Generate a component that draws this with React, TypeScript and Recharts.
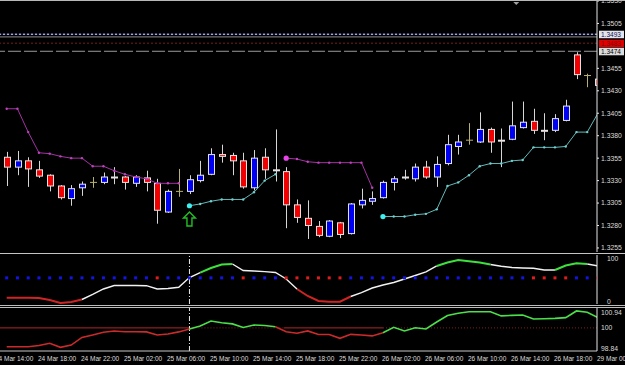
import React from 'react'
import {
  Bar,
  ComposedChart,
  Line,
  ReferenceDot,
  ReferenceLine,
  Scatter,
  XAxis,
  YAxis,
} from 'recharts'

// H1 bars from 24 Mar 15:00, last bar is 29 Mar 00:00
const opens = [
  1.3356, 1.3345, 1.3352, 1.3342, 1.3336, 1.3324, 1.331, 1.3322, 1.3328, 1.3328,
  1.3334, 1.3334, 1.3327, 1.3333, 1.3327, 1.3295, 1.3318, 1.3318, 1.333, 1.3337,
  1.3359, 1.3358, 1.3352, 1.3322, 1.3356, 1.3342, 1.334, 1.3303, 1.3288, 1.3279,
  1.3268, 1.3283, 1.3271, 1.3303, 1.3307, 1.3311, 1.3328, 1.3333, 1.3332, 1.3345,
  1.3334, 1.3349, 1.3368, 1.3375, 1.3373, 1.3387, 1.3375, 1.3376, 1.3389, 1.3396,
  1.3386, 1.3386, 1.3397, 1.347, 1.3447, 1.3443,
]
const highs = [
  1.3362, 1.3363, 1.3356, 1.3352, 1.3337, 1.3325, 1.3325, 1.3329, 1.3334, 1.3339,
  1.3345, 1.3335, 1.3336, 1.3341, 1.3332, 1.332, 1.3343, 1.3336, 1.3352, 1.3366,
  1.337, 1.3361, 1.3361, 1.3364, 1.3366, 1.3387, 1.3345, 1.3309, 1.3308, 1.3285,
  1.3286, 1.3284, 1.3305, 1.3321, 1.3318, 1.333, 1.3335, 1.3342, 1.3349, 1.3352,
  1.3357, 1.3381, 1.3381, 1.3394, 1.3406, 1.3389, 1.3388, 1.3418, 1.3418, 1.341,
  1.3405, 1.3404, 1.342, 1.3473, 1.3449, 1.3446,
]
const lows = [
  1.3324, 1.3336, 1.3323, 1.3333, 1.3318, 1.3309, 1.3302, 1.3313, 1.3322, 1.3326,
  1.3326, 1.332, 1.3323, 1.3318, 1.3282, 1.3294, 1.3312, 1.3315, 1.3328, 1.3336,
  1.335, 1.3336, 1.3321, 1.3319, 1.3332, 1.3329, 1.3277, 1.3283, 1.3265, 1.3267,
  1.3267, 1.3266, 1.327, 1.3299, 1.3303, 1.331, 1.3319, 1.3331, 1.3329, 1.3332,
  1.3323, 1.3347, 1.3359, 1.337, 1.3372, 1.3361, 1.3345, 1.3375, 1.3388, 1.3382,
  1.3375, 1.3384, 1.3396, 1.3443, 1.3434, 1.3432,
]
const closes = [
  1.3345, 1.3352, 1.3343, 1.3335, 1.3324, 1.3311, 1.3321, 1.3326, 1.3328, 1.3334,
  1.3333, 1.3328, 1.3334, 1.3328, 1.3297, 1.3318, 1.3318, 1.3331, 1.3336, 1.3359,
  1.3357, 1.3352, 1.3323, 1.3355, 1.3342, 1.3341, 1.3303, 1.3289, 1.328, 1.3269,
  1.3285, 1.327, 1.3304, 1.3308, 1.331, 1.3328, 1.3332, 1.3334, 1.3345, 1.3334,
  1.3348, 1.337, 1.3373, 1.3375, 1.3387, 1.3373, 1.3374, 1.3391, 1.3395, 1.3386,
  1.3385, 1.3399, 1.3413, 1.3448, 1.3447, 1.3436,
]

// trailing stops (magenta above price, cyan below)
const stopHi = [
  1.341, 1.341, 1.3384, 1.3361, 1.336, 1.3357, 1.3355, 1.3355, 1.3346, 1.3346,
  1.3341, 1.3337, 1.3334, 1.3332, 1.3327, 1.3327, 1.3327, null, null, null,
  null, null, null, null, null, null, 1.3355, 1.3354, 1.3351, 1.335,
  1.335, 1.335, 1.335, 1.335, 1.3322, null, null, null, null, null,
  null, null, null, null, null, null, null, null, null, null,
  null, null, null, null, null, null,
]
const stopLo = [
  null, null, null, null, null, null, null, null, null, null,
  null, null, null, null, null, null, null, 1.3302, 1.3304, 1.3307,
  1.3309, 1.3309, 1.3309, 1.3317, 1.333, 1.3337, null, null, null, null,
  null, null, null, null, null, 1.329, 1.329, 1.329, 1.3292, 1.3293,
  1.3298, 1.3324, 1.3328, 1.3336, 1.3346, 1.3349, 1.3349, 1.3352, 1.3353, 1.3367,
  1.3367, 1.3367, 1.3368, 1.3384, 1.3384, 1.3405,
]

// upper indicator window
const stoch = [
  9.8, 9.8, 9.8, 9.1, 4.4, -2.6, -0.2, 5.6, 17.3, 30.1,
  38.3, 38.3, 38.3, 37.8, 30.1, 31.3, 34.1, 56.9, 68.1, 79.1,
  87.3, 88.4, 73.3, 72.1, 70.5, 68.6, 53.4, 30.1, 13.8, 2.1,
  0.5, 0.5, 12.6, 21.5, 32.4, 39.4, 45.3, 53.4, 61.6, 69.8,
  83.8, 91.9, 97.8, 94.7, 91.9, 87.3, 83.1, 80.3, 79.1, 78.4,
  74.4, 74.4, 84.9, 90.1, 88.4, 83.8,
]
const stochSegs: [number, number, string][] = [
  [0, 7, 'r'], [7, 18, 'w'], [18, 21, 'g'], [21, 27, 'w'], [27, 32, 'r'],
  [32, 40, 'w'], [40, 45, 'g'], [45, 51, 'w'], [51, 54, 'g'], [54, 55, 'w'],
]
const signal = 'bbbbbbbbbbbbbbrbbbbbbbrbbbrrrrrrbbbbbbbbbbbbbbbbbrrrrbbr'.split('')
const SIGNAL_LEVEL = 56

// lower indicator window
const osc = [
  99.01, 99.01, 99.01, 99.08, 99.19, 98.98, 99.1, 99.5, 99.63, 99.77,
  99.84, 99.8, 99.8, 99.79, 99.63, 99.68, 99.79, 99.94, 100.1, 100.36,
  100.27, 100.21, 100.02, 100.15, 100.13, 100.06, 99.8, 99.72, 99.84, 99.65,
  99.65, 99.45, 99.66, 99.63, 99.58, 99.75, 100.03, 99.84, 100.01, 99.94,
  100.31, 100.65, 100.77, 100.85, 100.85, 100.85, 100.63, 100.66, 100.68, 100.47,
  100.48, 100.5, 100.54, 100.89, 100.82, 100.54,
]
const oscSegs: [number, number, string][] = [
  [0, 17, 'r'], [17, 25, 'g'], [25, 35, 'r'], [35, 55, 'g'],
]

const priceTicks = [
  1.3255, 1.328, 1.3305, 1.333, 1.3355, 1.338, 1.3405, 1.343, 1.3455, 1.3505, 1.353,
]
const oscTicks = [98.84, 100, 100.94]
const timeTickIdx = [-1, 3, 7, 11, 15, 19, 23, 27, 31, 35, 39, 43, 47, 51, 55]
const timeLabels = [
  '24 Mar 14:00', '24 Mar 18:00', '24 Mar 22:00', '25 Mar 02:00', '25 Mar 06:00',
  '25 Mar 10:00', '25 Mar 14:00', '25 Mar 18:00', '25 Mar 22:00', '26 Mar 02:00',
  '26 Mar 06:00', '26 Mar 10:00', '26 Mar 14:00', '26 Mar 18:00', '29 Mar 00:00',
]

const pick = (vals: number[], segs: [number, number, string][], c: string) =>
  vals.map((v, i) => (segs.some(([a, b, k]) => k === c && i >= a && i <= b) ? v : null))

const stRed = pick(stoch, stochSegs, 'r')
const stWhite = pick(stoch, stochSegs, 'w')
const stGreen = pick(stoch, stochSegs, 'g')
const osRed = pick(osc, oscSegs, 'r')
const osGreen = pick(osc, oscSegs, 'g')

const rows = opens.map((o, i) => ({
  i,
  open: o,
  high: highs[i],
  low: lows[i],
  close: closes[i],
  range: [lows[i], highs[i]],
  hi: stopHi[i],
  lo: stopLo[i],
  sig: signal[i],
  sigLevel: SIGNAL_LEVEL,
  stR: stRed[i],
  stW: stWhite[i],
  stG: stGreen[i],
  osR: osRed[i],
  osG: osGreen[i],
}))

const FONT = '"Liberation Sans", Arial, sans-serif'
const AX = '#dcdcdc'
const X_DOMAIN: [number, number] = [-0.623, 54.91]
const KHAKI = '#b8b070'

const Candle = (props: any) => {
  const { x, y, width, height, payload } = props
  const { open, close, high, low } = payload
  const top = Math.min(y, y + height)
  const h = Math.abs(height)
  const py = (v: number) => top + ((high - v) / (high - low)) * h
  const cx = Math.round(x + width / 2) + 0.5
  const doji = open === close
  const yo = py(open)
  const yc = py(close)
  const bt = Math.min(yo, yc)
  const bh = Math.max(1, Math.abs(yc - yo))
  return (
    <g>
      <line x1={cx} x2={cx} y1={top} y2={top + h} stroke={doji ? KHAKI : '#d6d6d6'} />
      {doji ? (
        <line x1={cx - 3.5} x2={cx + 3.5} y1={yo} y2={yo} stroke={KHAKI} />
      ) : (
        <rect
          x={cx - 3}
          y={bt}
          width={6}
          height={bh}
          fill={close > open ? '#0000f0' : '#f00000'}
          stroke="#e4e4e4"
          strokeWidth={1}
        />
      )}
    </g>
  )
}

const stopDot = (series: (number | null)[], color: string, big: string) => (p: any) => {
  const { cx, cy, index } = p
  if (series[index] == null || cy == null || isNaN(cy)) return <g key={index} />
  const first = index > 0 && series[index - 1] == null
  return <circle key={index} cx={cx} cy={cy} r={first ? 2.6 : 1.2} fill={first ? big : color} />
}

const UpArrow = (p: any) => {
  const { cx, cy } = p
  const d = `M${cx},${cy} L${cx + 6},${cy + 6} L${cx + 2.5},${cy + 6} L${cx + 2.5},${cy + 14} L${cx - 2.5},${cy + 14} L${cx - 2.5},${cy + 6} L${cx - 6},${cy + 6} Z`
  return <path d={d} fill="none" stroke="#22c022" strokeWidth={1.4} />
}

const TopMarker = (p: any) => {
  const { cx, cy } = p
  return <path d={`M${cx - 3},${cy} L${cx + 3},${cy} L${cx},${cy + 3} Z`} fill="#a0a0a0" />
}

const PriceTag = ({ viewBox, text, bg, fg }: any) => {
  if (!viewBox) return null
  const x = viewBox.x + viewBox.width + 2
  const y = viewBox.y
  return (
    <g>
      <rect x={x} y={y - 3.5} width={25} height={7.5} fill={bg} />
      <text x={x + 2} y={y + 2.6} fontSize={6.5} fontFamily={FONT} fill={fg}>
        {text}
      </text>
    </g>
  )
}

const Square = (p: any) => (
  <rect
    x={p.cx - 1.5}
    y={p.cy - 1.5}
    width={3}
    height={3}
    fill={p.payload.sig === 'r' ? '#e01c1c' : '#1414e6'}
  />
)

const TimeTick = (p: any) => {
  const { x, y, payload } = p
  const k = timeTickIdx.indexOf(payload.value)
  return (
    <text x={x - 1} y={y + 8} fontSize={6.5} fontFamily={FONT} fill={AX}>
      {timeLabels[k]}
    </text>
  )
}

// lower window labels: max sits just under the top edge, min just above the bottom
const OscTick = (p: any) => {
  const { x, y, payload } = p
  const v = payload.value
  const shift = v === oscTicks[2] ? 2.5 : v === oscTicks[0] ? -1 : 0
  return (
    <text x={x + 4} y={y + shift + 2.4} fontSize={6.8} fontFamily={FONT} fill={AX}>
      {v === 100 ? '100' : v.toFixed(2)}
    </text>
  )
}

const yTick = { fill: AX, fontSize: 6.8, fontFamily: FONT }
const line = (top: number, color: string) => (
  <div style={{ position: 'absolute', left: 0, top, width: 625, height: 1, background: color }} />
)

export default function App() {
  return (
    <div
      style={{
        position: 'absolute',
        left: 0,
        top: 0,
        width: 625,
        height: 365,
        background: '#000',
        overflow: 'hidden',
      }}
    >
      <div style={{ position: 'absolute', left: 0, top: 0 }}>
        <ComposedChart width={625} height={252} data={rows} margin={{ top: 0, right: 0, bottom: 0, left: 0 }}>
          <XAxis dataKey="i" type="number" domain={X_DOMAIN} allowDataOverflow hide />
          <YAxis
            orientation="right"
            width={28}
            domain={[1.32505, 1.35311]}
            allowDataOverflow
            ticks={priceTicks}
            interval={0}
            tickFormatter={(v: number) => v.toFixed(4)}
            tick={yTick}
            axisLine={{ stroke: '#e6e6e6' }}
            tickLine={{ stroke: '#e6e6e6' }}
            tickSize={2}
            tickMargin={2}
          />
          <ReferenceLine y={1.3493} stroke="#1c1c80" />
          <ReferenceLine
            y={1.3493}
            stroke="#e8e8e8"
            strokeDasharray="2 2"
            label={<PriceTag text="1.3493" bg="#e4e4ec" fg="#101050" />}
          />
          <ReferenceLine y={1.349} stroke="#8c8c8c" />
          <ReferenceLine
            y={1.3483}
            stroke="#7a1c1c"
            strokeDasharray="2 2"
            label={<PriceTag text="1.3483" bg="#e00000" fg="#800000" />}
          />
          <ReferenceLine
            y={1.3474}
            stroke="#9a9a9a"
            strokeDasharray="13 3"
            label={<PriceTag text="1.3474" bg="#dcdcdc" fg="#000" />}
          />
          <Bar dataKey="range" barSize={7} shape={Candle} isAnimationActive={false} />
          <Line
            dataKey="hi"
            stroke="#a432a4"
            strokeWidth={1}
            dot={stopDot(stopHi, '#c040c0', '#e844e8')}
            activeDot={false}
            connectNulls={false}
            isAnimationActive={false}
          />
          <Line
            dataKey="lo"
            stroke="#62baba"
            strokeWidth={1}
            dot={stopDot(stopLo, '#70d0d0', '#40f0f0')}
            activeDot={false}
            connectNulls={false}
            isAnimationActive={false}
          />
          <ReferenceDot x={17} y={1.3295} shape={UpArrow} />
          <ReferenceDot x={47.4} y={1.3529} shape={TopMarker} />
        </ComposedChart>
      </div>

      <div style={{ position: 'absolute', left: 0, top: 255 }}>
        <ComposedChart width={625} height={49} data={rows} margin={{ top: 0, right: 0, bottom: 0, left: 0 }}>
          <XAxis dataKey="i" type="number" domain={X_DOMAIN} allowDataOverflow hide />
          <YAxis
            orientation="right"
            width={28}
            domain={[-4.9, 109.4]}
            allowDataOverflow
            ticks={[0, 100]}
            interval={0}
            tick={yTick}
            axisLine={{ stroke: '#e6e6e6' }}
            tickLine={false}
            tickMargin={4}
          />
          <ReferenceLine x={17} stroke="#e8e8e8" strokeDasharray="5 2 1 2" />
          <Scatter dataKey="sigLevel" shape={Square} isAnimationActive={false} />
          <Line dataKey="stR" stroke="#d02424" strokeWidth={2} dot={false} activeDot={false} isAnimationActive={false} />
          <Line dataKey="stW" stroke="#f2f2f2" strokeWidth={1.4} dot={false} activeDot={false} isAnimationActive={false} />
          <Line dataKey="stG" stroke="#3ee03e" strokeWidth={2} dot={false} activeDot={false} isAnimationActive={false} />
        </ComposedChart>
      </div>

      <div style={{ position: 'absolute', left: 0, top: 308 }}>
        <ComposedChart width={625} height={57} data={rows} margin={{ top: 0, right: 0, bottom: 0, left: 0 }}>
          <XAxis
            dataKey="i"
            type="number"
            domain={X_DOMAIN}
            allowDataOverflow
            ticks={timeTickIdx}
            interval={0}
            height={14}
            tick={<TimeTick />}
            tickLine={false}
            tickSize={0}
            axisLine={{ stroke: '#c8c8c8' }}
          />
          <YAxis
            orientation="right"
            width={28}
            domain={[98.787, 101.045]}
            allowDataOverflow
            ticks={oscTicks}
            interval={0}
            tick={<OscTick />}
            axisLine={{ stroke: '#e6e6e6' }}
            tickLine={false}
            tickSize={0}
            tickMargin={0}
          />
          <ReferenceLine segment={[{ x: -0.62, y: 100 }, { x: 17, y: 100 }]} stroke="#b02828" />
          <ReferenceLine segment={[{ x: 17, y: 100 }, { x: 25.8, y: 100 }]} stroke="#8a2020" strokeDasharray="1 2" />
          <ReferenceLine segment={[{ x: 25.8, y: 100 }, { x: 35, y: 100 }]} stroke="#b02828" />
          <ReferenceLine segment={[{ x: 35, y: 100 }, { x: 54.9, y: 100 }]} stroke="#8a2020" strokeDasharray="1 2" />
          <ReferenceLine x={17} stroke="#e8e8e8" strokeDasharray="5 2 1 2" />
          <Line dataKey="osR" stroke="#cc2a2a" strokeWidth={1.6} dot={false} activeDot={false} isAnimationActive={false} />
          <Line dataKey="osG" stroke="#4ae04a" strokeWidth={1.6} dot={false} activeDot={false} isAnimationActive={false} />
        </ComposedChart>
      </div>

      {line(0, '#b8b8b8')}
      {line(253, '#c4c4c4')}
      {line(305, '#bcbcbc')}
      {line(307, '#bcbcbc')}
    </div>
  )
}
